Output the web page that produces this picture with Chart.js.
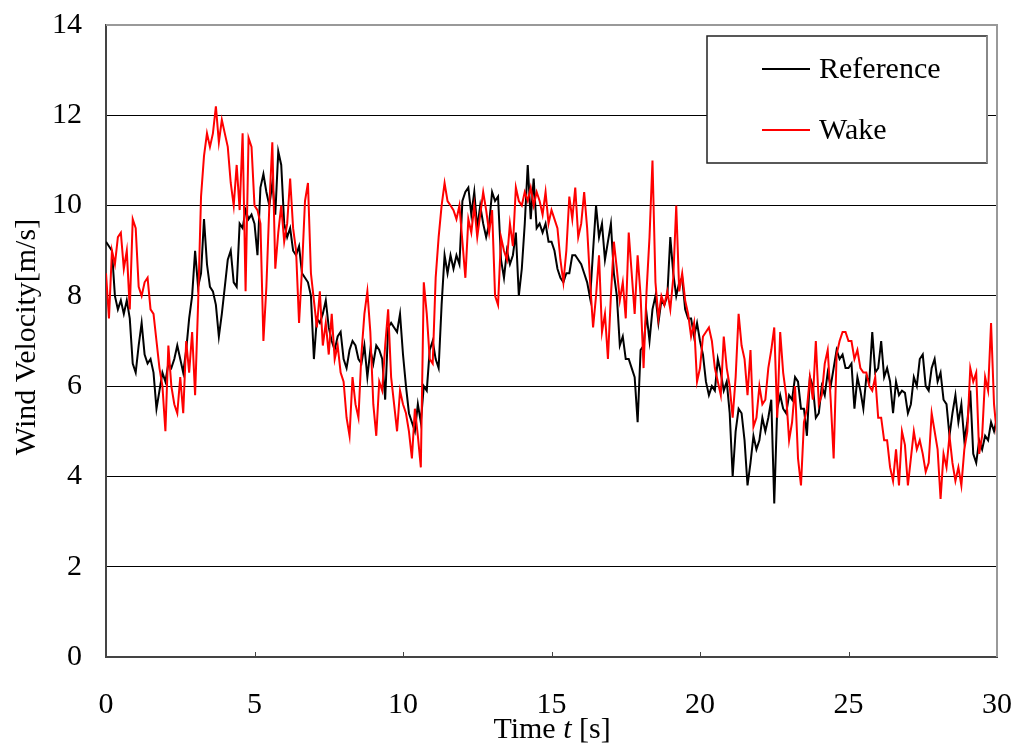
<!DOCTYPE html>
<html>
<head>
<meta charset="utf-8">
<title>Wind Velocity</title>
<script src="https://cdn.jsdelivr.net/npm/chart.js@4/dist/chart.umd.min.js"></script>
<style>
  html, body { margin: 0; padding: 0; background: #fff; }
  #wrap { width: 1019px; height: 749px; position: relative; }
</style>
</head>
<body>
<div id="wrap"><canvas id="chart"></canvas></div>
<script>
// sampling interval of the records [s]
const SAMPLE_STEP = 0.1;

// wind velocity [m/s], one row per second
const referenceSpeed = [
  9.2, 9.1, 9.0, 8.0, 7.7, 7.9, 7.6, 7.9, 7.5, 6.5,
  6.3, 6.9, 7.4, 6.7, 6.5, 6.6, 6.3, 5.5, 5.9, 6.3,
  6.1, 6.5, 6.4, 6.6, 6.9, 6.6, 6.3, 6.8, 7.5, 8.0,
  9.0, 8.2, 8.5, 9.7, 8.7, 8.2, 8.1, 7.8, 7.1, 7.6,
  8.2, 8.8, 9.0, 8.3, 8.2, 9.6, 9.5, 9.9, 9.7, 9.8,
  9.6, 8.9, 10.4, 10.7, 10.3, 10.0, 10.5, 9.8, 11.2, 10.9,
  9.6, 9.3, 9.5, 9.0, 8.9, 9.1, 8.5, 8.4, 8.3, 8.0,
  6.6, 7.5, 7.4, 7.6, 7.9, 7.3, 7.0, 6.8, 7.1, 7.2,
  6.6, 6.4, 6.8, 7.0, 6.9, 6.6, 6.5, 6.9, 6.2, 6.8,
  6.5, 6.9, 6.8, 6.6, 5.7, 7.3, 7.4, 7.3, 7.2, 7.6,
  6.7, 6.0, 5.4, 5.2, 5.0, 5.6, 5.2, 6.0, 5.9, 6.8,
  7.0, 6.6, 6.4, 7.8, 8.9, 8.5, 8.9, 8.6, 8.9, 8.7,
  10.1, 10.3, 10.4, 9.8, 10.3, 9.5, 10.0, 9.6, 9.3, 9.6,
  10.3, 10.1, 10.2, 8.8, 8.4, 9.0, 8.7, 8.9, 9.4, 8.0,
  8.6, 9.6, 10.9, 9.7, 10.6, 9.5, 9.6, 9.4, 9.6, 9.2,
  9.2, 9.0, 8.6, 8.4, 8.3, 8.5, 8.5, 8.9, 8.9, 8.8,
  8.7, 8.5, 8.3, 7.95, 9.0, 10.0, 9.3, 9.6, 8.8, 9.2,
  9.6, 8.5, 8.0, 6.9, 7.1, 6.6, 6.6, 6.4, 6.2, 5.2,
  6.8, 6.9, 7.6, 7.0, 7.7, 8.0, 7.4, 7.9, 7.8, 8.0,
  9.3, 8.5, 8.0, 8.3, 8.4, 7.7, 7.5, 7.5, 7.1, 7.4,
  7.0, 6.7, 6.1, 5.8, 6.0, 5.9, 6.6, 6.3, 5.9, 6.1,
  5.4, 4.0, 5.0, 5.5, 5.4, 4.8, 3.8, 4.3, 4.9, 4.6,
  4.8, 5.3, 5.0, 5.3, 5.7, 3.4, 5.5, 5.8, 5.5, 5.4,
  5.8, 5.7, 6.2, 6.1, 5.5, 5.5, 4.9, 6.2, 6.0, 5.3,
  5.4, 6.0, 5.8, 6.3, 6.0, 6.4, 6.8, 6.6, 6.7, 6.4,
  6.4, 6.5, 5.5, 6.2, 5.9, 5.5, 6.2, 6.1, 7.2, 6.3,
  6.4, 7.0, 6.2, 6.4, 6.1, 5.4, 6.1, 5.8, 5.9, 5.85,
  5.4, 5.6, 6.2, 6.0, 6.6, 6.7, 6.0, 5.9, 6.4, 6.6,
  6.1, 6.3, 5.7, 5.6, 4.9, 5.4, 5.8, 5.2, 5.6, 4.8,
  5.2, 5.9, 4.5, 4.3, 4.8, 4.6, 4.9, 4.8, 5.2, 5.0,
  5.3
];

const wakeSpeed = [
  8.5, 7.5, 9.0, 8.7, 9.3, 9.4, 8.6, 9.0, 7.7, 9.7,
  9.5, 8.2, 8.0, 8.3, 8.4, 7.7, 7.6, 7.0, 6.4, 6.0,
  5.0, 6.9, 6.0, 5.6, 5.4, 6.2, 5.4, 7.0, 6.3, 7.2,
  5.8, 7.8, 10.2, 11.1, 11.6, 11.3, 11.6, 12.2, 11.4, 11.9,
  11.6, 11.3, 10.5, 10.0, 10.9, 9.9, 11.6, 8.1, 11.5, 11.3,
  10.0, 9.9, 9.6, 7.0, 8.2, 10.0, 11.4, 8.6, 9.4, 10.0,
  9.2, 9.6, 10.6, 9.5, 9.0, 7.4, 8.6, 10.1, 10.5, 8.5,
  7.9, 7.3, 8.1, 6.9, 7.4, 6.7, 7.6, 6.6, 6.9, 6.3,
  6.1, 5.3, 4.9, 6.2, 5.6, 5.3, 6.7, 7.6, 8.1, 7.2,
  5.6, 4.9, 6.1, 5.9, 6.9, 7.7, 6.2, 5.6, 5.0, 5.9,
  5.6, 5.4, 5.0, 4.4, 5.5, 4.9, 4.2, 8.3, 7.6, 6.6,
  6.5, 8.4, 9.3, 10.0, 10.5, 10.1, 10.0, 9.9, 9.7, 10.0,
  9.2, 8.4, 9.7, 9.4, 10.0, 9.3, 9.8, 10.3, 9.9, 9.4,
  9.9, 8.0, 7.8, 9.3, 9.0, 8.8, 9.6, 9.1, 10.4, 10.1,
  10.0, 10.3, 10.1, 10.4, 10.0, 10.3, 10.1, 9.8, 10.3, 9.6,
  9.9, 9.7, 9.5, 8.8, 8.3, 9.0, 10.2, 9.7, 10.4, 9.3,
  9.6, 10.3, 9.5, 8.3, 7.3, 8.0, 8.9, 7.2, 7.6, 6.6,
  8.0, 9.2, 8.6, 7.9, 8.3, 7.5, 9.4, 8.5, 7.6, 8.9,
  8.0, 6.4, 8.1, 9.3, 11.0, 8.3, 7.5, 8.0, 7.8, 8.1,
  7.7, 8.4, 10.0, 8.1, 8.5, 7.9, 7.6, 7.1, 7.4, 6.1,
  6.4, 7.1, 7.2, 7.3, 7.0, 6.4, 6.1, 5.8, 7.1, 6.4,
  6.0, 5.3, 6.2, 7.6, 6.9, 6.6, 5.8, 6.8, 5.1, 5.3,
  6.0, 5.6, 5.7, 6.4, 6.8, 7.3, 5.3, 7.2, 6.3, 5.8,
  4.8, 5.2, 6.0, 4.4, 3.8, 5.2, 5.5, 6.2, 5.7, 7.0,
  5.6, 5.8, 6.5, 6.8, 5.7, 4.4, 6.7, 7.0, 7.2, 7.2,
  7.0, 7.0, 6.6, 6.8, 6.4, 6.3, 6.3, 6.0, 5.9, 6.2,
  5.3, 5.3, 4.8, 4.8, 4.2, 3.9, 4.6, 3.8, 5.0, 4.7,
  3.8, 4.4, 5.0, 4.6, 4.8, 4.5, 4.1, 4.3, 5.4, 5.0,
  4.6, 3.5, 4.5, 4.2, 4.9, 4.3, 3.9, 4.2, 3.8, 4.6,
  5.0, 6.4, 6.1, 6.3, 4.5, 4.9, 6.2, 5.9, 7.4, 5.6,
  4.9
];

const xTicks = [0, 5, 10, 15, 20, 25, 30];
const yTicks = [0, 2, 4, 6, 8, 10, 12, 14];

const FONT = '"Liberation Serif", "Times New Roman", serif';

const toPoints = arr => arr.map((v, i) => ({ x: +(i * SAMPLE_STEP).toFixed(2), y: v }));

// frame, inner tick marks, axis titles and boxed legend
const decorations = {
  id: 'decorations',
  afterDraw(chart) {
    const { ctx, chartArea: a, scales } = chart;
    ctx.save();

    // top and right frame
    ctx.strokeStyle = '#999';
    ctx.lineWidth = 2;
    ctx.beginPath();
    ctx.moveTo(a.left, a.top);
    ctx.lineTo(a.right, a.top);
    ctx.lineTo(a.right, a.bottom);
    ctx.stroke();

    // small tick marks pointing into the plot
    ctx.strokeStyle = '#444';
    ctx.lineWidth = 1;
    xTicks.slice(1, -1).forEach(t => {
      const x = Math.round(scales.x.getPixelForValue(t)) + 0.5;
      ctx.beginPath();
      ctx.moveTo(x, a.bottom);
      ctx.lineTo(x, a.bottom - 5);
      ctx.stroke();
    });

    // axis titles
    ctx.fillStyle = '#000';
    ctx.textBaseline = 'middle';
    const parts = [
      { s: 'Time ', f: '30px ' + FONT },
      { s: 't', f: 'italic 30px ' + FONT },
      { s: ' [s]', f: '30px ' + FONT }
    ];
    let total = 0;
    parts.forEach(p => { ctx.font = p.f; p.w = ctx.measureText(p.s).width; total += p.w; });
    let x = 552 - total / 2;
    ctx.textAlign = 'left';
    parts.forEach(p => { ctx.font = p.f; ctx.fillText(p.s, x, 730); x += p.w; });

    ctx.save();
    ctx.translate(27, 337);
    ctx.rotate(-Math.PI / 2);
    ctx.textAlign = 'center';
    ctx.font = '30px ' + FONT;
    ctx.fillText('Wind Velocity[m/s]', 0, 0);
    ctx.restore();

    // legend box
    const bx = 707, by = 36, bw = 280, bh = 127;
    ctx.fillStyle = '#fff';
    ctx.fillRect(bx, by, bw, bh);
    ctx.strokeStyle = '#222';
    ctx.lineWidth = 1.5;
    ctx.strokeRect(bx, by, bw, bh);
    ctx.strokeStyle = '#888';
    ctx.lineWidth = 2;
    ctx.beginPath();
    ctx.moveTo(bx + bw, by);
    ctx.lineTo(bx + bw, by + bh);
    ctx.stroke();

    const rows = [69, 130];
    chart.data.datasets.forEach((ds, i) => {
      const y = rows[i];
      ctx.strokeStyle = ds.borderColor;
      ctx.lineWidth = 2;
      ctx.beginPath();
      ctx.moveTo(762, y);
      ctx.lineTo(810, y);
      ctx.stroke();
      ctx.fillStyle = '#000';
      ctx.font = '30px ' + FONT;
      ctx.textAlign = 'left';
      ctx.textBaseline = 'middle';
      ctx.fillText(ds.label, 819, y + 1);
    });

    ctx.restore();
  }
};

new Chart(document.getElementById('chart'), {
  type: 'line',
  data: {
    datasets: [
      { label: 'Reference', data: toPoints(referenceSpeed), borderColor: '#000000', borderWidth: 2, pointRadius: 0, tension: 0, order: 1 },
      { label: 'Wake', data: toPoints(wakeSpeed), borderColor: '#ff0000', borderWidth: 2, pointRadius: 0, tension: 0, order: 0 }
    ]
  },
  options: {
    responsive: true,
    maintainAspectRatio: false,
    animation: false,
    events: [],
    layout: { padding: { top: 25, right: 22, left: 0, bottom: 0 } },
    plugins: { legend: { display: false }, tooltip: { enabled: false } },
    scales: {
      x: {
        type: 'linear',
        min: 0, max: 30,
        afterFit: s => { s.height = 92; s.paddingLeft = 0; s.paddingRight = 0; },
        afterBuildTicks: s => { s.ticks = xTicks.map(v => ({ value: v })); },
        grid: { display: false, drawTicks: false },
        border: { display: true, color: '#444', width: 2 },
        ticks: { color: '#000', padding: 30, font: { family: FONT, size: 30 }, maxRotation: 0 }
      },
      y: {
        min: 0, max: 14,
        afterFit: s => { s.width = 106; s.paddingTop = 0; s.paddingBottom = 0; },
        afterBuildTicks: s => { s.ticks = yTicks.map(v => ({ value: v })); },
        grid: {
          drawTicks: false,
          lineWidth: 1,
          color: c => (c.tick.value === 0 || c.tick.value === 14) ? 'rgba(0,0,0,0)' : '#000'
        },
        border: { display: true, color: '#444', width: 2 },
        ticks: { color: '#000', padding: 24, font: { family: FONT, size: 30 } }
      }
    }
  },
  plugins: [decorations]
});
</script>
</body>
</html>
